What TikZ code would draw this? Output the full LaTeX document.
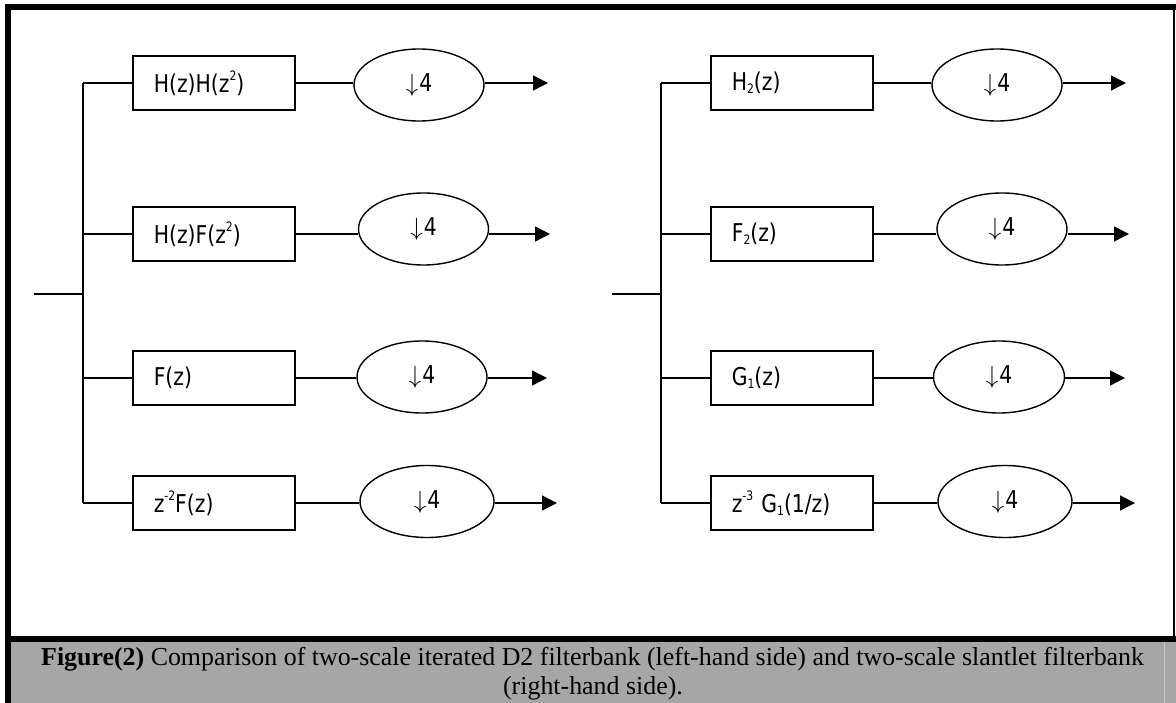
\documentclass[tikz,border=0pt]{standalone}
\usepackage{fontspec}
\setmainfont{Liberation Serif}
\newfontfamily\dfont[FakeStretch=0.83]{DejaVu Sans}
\usetikzlibrary{arrows.meta,shapes.geometric}
\newcommand\mysup[1]{\raisebox{0.5em}{\fontsize{13}{13}\selectfont #1}}
\newcommand\mysub[1]{\raisebox{-0.12em}{\fontsize{13}{13}\selectfont #1}}
\newcommand\dsfour{$\downarrow$\kern1pt4\hspace{26pt}}
% name, x offset, row y, ellipse cx, ellipse cy, ellipse width, tip x, text
\newcommand\branch[8]{%
  \node[fbox] (#1b) at (#2+132,#3) {#8};
  \node[dnell, minimum width=#6pt] (#1e) at (#2+#4,#5) {\dsfour};
  \coordinate (#1t) at (#2+#7,#3);
  \coordinate (#1j) at (#2+83,#3);
  \draw[wire] (#1j) -- (#1b.west);
  \draw[wire] (#1b.east) -- (#1b.east -| #1e.west);
  \draw[arr] (#1e.east |- #1b.east) -- (#1t);
}
\definecolor{capgrey}{RGB}{166,166,166}
\definecolor{capline}{RGB}{200,200,200}
\begin{document}
\begin{tikzpicture}[x=1pt,y=-1pt,
  wire/.style={line width=1.4pt},
  fbox/.style={draw, line width=1.6pt, minimum width=162pt, minimum height=54pt,
    text width=120pt, inner xsep=21pt, inner ysep=0pt, align=left, anchor=west,
    font=\dfont\fontsize{24.5}{25}\selectfont},
  dnell/.style={draw, ellipse, line width=1.4pt, minimum height=72pt, inner sep=0pt,
    font=\dfont\fontsize{24.5}{25}\selectfont},
  arr/.style={line width=1.4pt, -{Triangle[length=15pt,width=15pt]}},
  capfont/.style={font=\fontsize{25.9}{30}\selectfont, inner sep=0pt}]
\useasboundingbox (0,0) rectangle (1176,703);
% frame and caption band
\fill[capgrey] (11,642) rectangle (1176,703);
\draw[capline, line width=1pt] (1164.5,642) -- (1164.5,703);
\fill[black] (5,4) rectangle (1176,10);
\fill[black] (5,4) rectangle (11,703);
\fill[black] (5,636) rectangle (1176,642);
\draw[line width=1.6pt] (1174,4) -- (1174,642);
% left panel
\coordinate (Lin) at (34,294);
\coordinate (Ljn) at (83,294);
\coordinate (Ltop) at (83,83);
\coordinate (Lbot) at (83,503);
\draw[wire] (Ltop) -- (Lbot);
\draw[wire] (Lin) -- (Ljn);
\branch{L1}{0}{83}{419}{85}{130}{548}{H(z)H(z\mysup{2})}
\branch{L2}{0}{234}{423.5}{229}{130}{550}{H(z)F(z\mysup{2})}
\branch{L3}{0}{378}{422}{377}{130}{547}{F(z)}
\branch{L4}{0}{503}{427}{501.5}{134}{557}{z\mysup{-2}F(z)}
% right panel
\coordinate (Rin) at (612,294);
\coordinate (Rjn) at (661,294);
\coordinate (Rtop) at (661,83);
\coordinate (Rbot) at (661,503);
\draw[wire] (Rtop) -- (Rbot);
\draw[wire] (Rin) -- (Rjn);
\branch{R1}{578}{83}{419}{85}{130}{548}{H\mysub{2}(z)}
\branch{R2}{578}{234}{424}{229}{130}{551}{F\mysub{2}(z)}
\branch{R3}{578}{378}{421}{377}{131}{547}{G\mysub{1}(z)}
\branch{R4}{578}{503}{427}{501.5}{134}{557}{z\mysup{-3} G\mysub{1}(1/z)}
% caption
\node[capfont, anchor=base west] (cap1) at (41,665) {\textbf{Figure(2)} Comparison of two-scale iterated D2 filterbank (left-hand side) and two-scale slantlet filterbank};
\node[capfont, anchor=base] (cap2) at (593,694) {(right-hand side).};
\end{tikzpicture}
\end{document}
